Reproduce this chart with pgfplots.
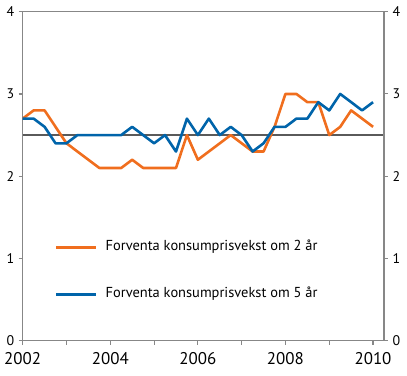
\documentclass[border=0pt]{standalone}
\usepackage{pgfplots}
\pgfplotsset{compat=1.18}
\usepackage{fontspec}
\setmainfont{PT Sans}
\definecolor{orng}{RGB}{240,110,30}
\definecolor{blu}{RGB}{0,100,170}
\definecolor{axgray}{RGB}{135,135,135}
\definecolor{refgray}{RGB}{90,90,90}
\begin{document}
\begin{tikzpicture}
\pgfplotsset{
  base/.style={
    scale only axis, width=361.3bp, height=329bp,
    xmin=2002, xmax=2010.25, ymin=0, ymax=4,
    axis line style={axgray, line width=1.3bp},
    tick style={axgray, line width=1.1bp},
    tick align=outside, major tick length=4bp,
    ytick={0,1,2,3,4},
    /pgf/number format/assume math mode=true,
    yticklabel style={font=\fontsize{14}{16}\selectfont},
    xticklabel style={font=\fontsize{17}{19}\selectfont},
  }
}
\begin{axis}[base, name=ax,
  axis x line*=bottom, axis y line*=left,
  xtick={2002,...,2010},
  xticklabels={2002,,2004,,2006,,2008,,2010},
  yticklabel style={xshift=-1bp},
  xticklabel style={yshift=-4bp},
  legend cell align=left,
  legend style={draw=none, fill=none, at={(0.089,0.2125)}, anchor=west,
    inner sep=0pt, font=\fontsize{14.5}{16}\selectfont,
    nodes={inner sep=0pt, text height=10bp, text depth=3bp},
    row sep=34bp,
    /tikz/every odd column/.append style={column sep=8bp}},
  legend image code/.code={\draw[#1] (0bp,0bp) -- (40bp,0bp);},
]
\draw[refgray, line width=1.5bp] (axis cs:2002,2.5) -- (axis cs:2010.25,2.5);
\draw[axgray, line width=1.3bp] (axis cs:2002,4) -- (axis cs:2010.25,4);
\addplot[orng, line width=2.6bp, line join=round] coordinates {
(2002.00,2.7) (2002.25,2.8) (2002.50,2.8) (2002.75,2.6) (2003.00,2.4)
(2003.25,2.3) (2003.50,2.2) (2003.75,2.1) (2004.00,2.1) (2004.25,2.1)
(2004.50,2.2) (2004.75,2.1) (2005.00,2.1) (2005.25,2.1) (2005.50,2.1)
(2005.75,2.5) (2006.00,2.2) (2006.25,2.3) (2006.50,2.4) (2006.75,2.5)
(2007.00,2.4) (2007.25,2.3) (2007.50,2.3) (2007.75,2.6) (2008.00,3.0)
(2008.25,3.0) (2008.50,2.9) (2008.75,2.9) (2009.00,2.5) (2009.25,2.6)
(2009.50,2.8) (2009.75,2.7) (2010.00,2.6)};
\addlegendentry{Forventa konsumprisvekst om 2 år}
\addplot[blu, line width=2.6bp, line join=round] coordinates {
(2002.00,2.7) (2002.25,2.7) (2002.50,2.6) (2002.75,2.4) (2003.00,2.4)
(2003.25,2.5) (2003.50,2.5) (2003.75,2.5) (2004.00,2.5) (2004.25,2.5)
(2004.50,2.6) (2004.75,2.5) (2005.00,2.4) (2005.25,2.5) (2005.50,2.3)
(2005.75,2.7) (2006.00,2.5) (2006.25,2.7) (2006.50,2.5) (2006.75,2.6)
(2007.00,2.5) (2007.25,2.3) (2007.50,2.4) (2007.75,2.6) (2008.00,2.6)
(2008.25,2.7) (2008.50,2.7) (2008.75,2.9) (2009.00,2.8) (2009.25,3.0)
(2009.50,2.9) (2009.75,2.8) (2010.00,2.9)};
\addlegendentry{Forventa konsumprisvekst om 5 år}
\end{axis}
\begin{axis}[base,
  axis x line=none, axis y line*=right,
  yticklabel style={xshift=1bp},
]
\end{axis}
\pgfresetboundingbox
\path[use as bounding box] (ax.south west) ++(-22.7bp,-35.3bp) rectangle ++(407bp,376bp);
\end{tikzpicture}
\end{document}
